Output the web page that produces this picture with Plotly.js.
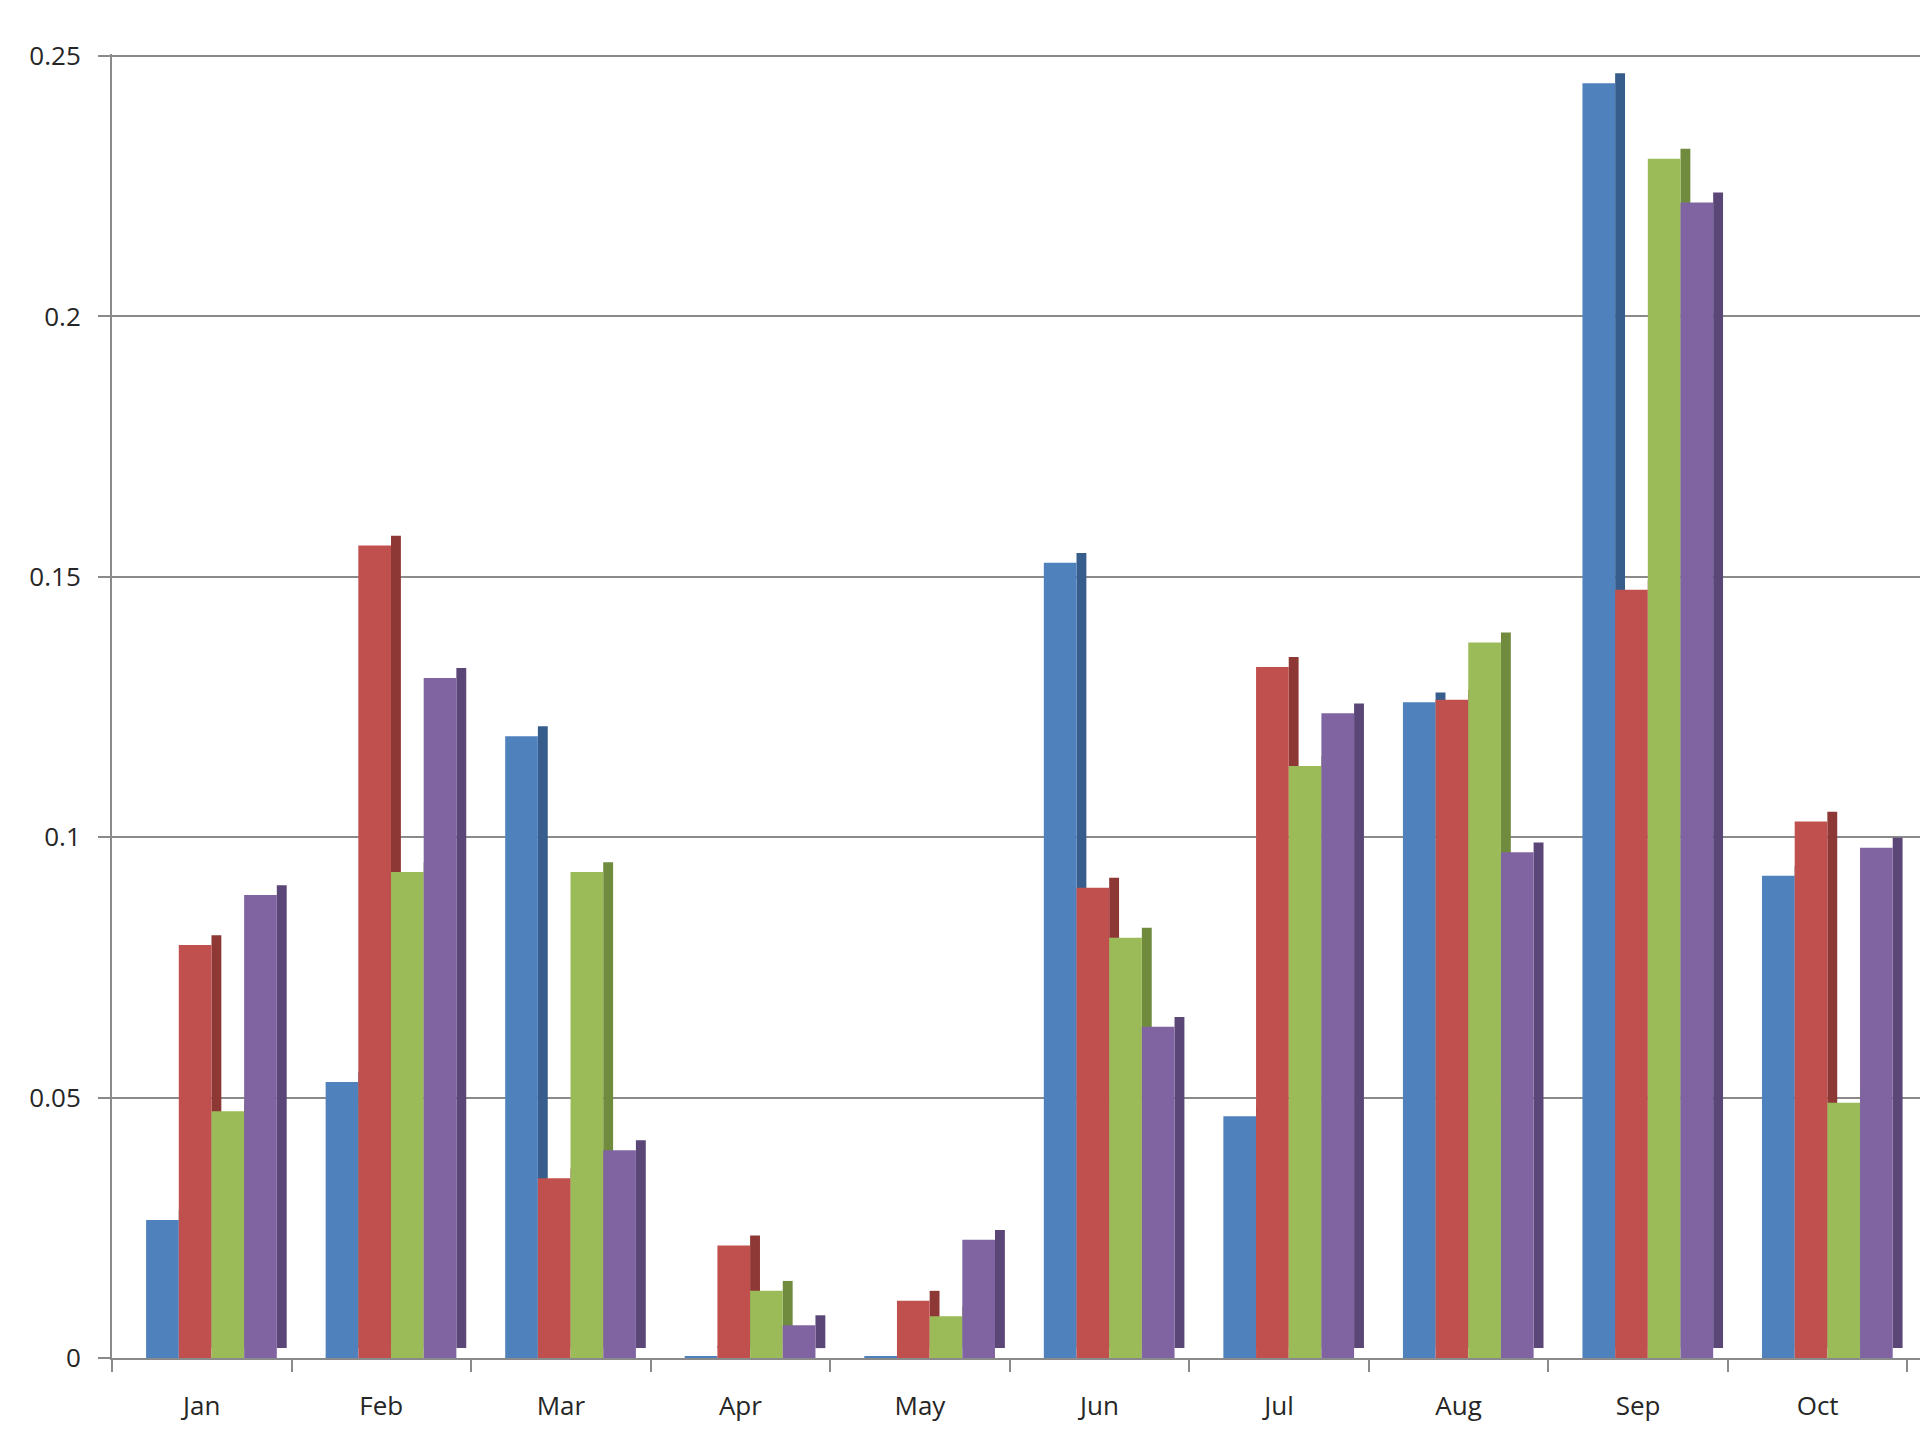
<!DOCTYPE html>
<html>
<head>
<meta charset="utf-8">
<script src="https://cdn.plot.ly/plotly-3.0.1.min.js"></script>
<style>
  html, body { margin: 0; padding: 0; background: #ffffff; }
  #chart { width: 1920px; height: 1440px; }
</style>
</head>
<body>
<div id="chart"></div>
<script>
// ---- Data ----
const months = ["Jan", "Feb", "Mar", "Apr", "May", "Jun", "Jul", "Aug", "Sep", "Oct"];
const series1 = [0.0265, 0.0530, 0.1194, 0.0004, 0.0004, 0.1527, 0.0464, 0.1259, 0.2448, 0.0926];
const series2 = [0.0793, 0.1560, 0.0345, 0.0216, 0.0110, 0.0903, 0.1327, 0.1264, 0.1475, 0.1030];
const series3 = [0.0474, 0.0933, 0.0933, 0.0129, 0.0080, 0.0807, 0.1137, 0.1374, 0.2303, 0.0490];
const series4 = [0.0889, 0.1306, 0.0399, 0.0063, 0.0227, 0.0636, 0.1238, 0.0971, 0.2219, 0.0980];
const yTicks = [0, 0.05, 0.1, 0.15, 0.2, 0.25];
const yTickText = ["0", "0.05", "0.1", "0.15", "0.2", "0.25"];

// ---- Styles ----
const allSeries = [series1, series2, series3, series4];
const names = ["Series 1", "Series 2", "Series 3", "Series 4"];
const frontColors = ["#4F81BD", "#C0504D", "#9BBB59", "#8064A2"];
const sideColors  = ["#375D8C", "#8E3835", "#708A3E", "#5A4677"];
const barWidth = 0.182;          // width of a front face, in category units
const firstOffset = -0.31;       // left edge of first bar relative to category centre
const sideWidth = 0.055;         // depth face width, in category units
const lift = 0.0019;             // vertical depth lift of the side faces

const traces = [];
// side (depth) faces first, so the front faces overlap them
allSeries.forEach((vals, i) => {
  traces.push({
    type: "bar",
    x: months,
    y: vals,
    base: vals.map(() => lift),
    offset: firstOffset + (i + 1) * barWidth,
    width: sideWidth,
    marker: { color: sideColors[i], line: { width: 0 } },
    showlegend: false,
    hoverinfo: "skip"
  });
});
allSeries.forEach((vals, i) => {
  traces.push({
    type: "bar",
    name: names[i],
    x: months,
    y: vals,
    offset: firstOffset + i * barWidth,
    width: barWidth,
    marker: { color: frontColors[i], line: { width: 0 } },
    showlegend: false
  });
});

const layout = {
  width: 1920,
  height: 1440,
  margin: { l: 112, r: 0, t: 54, b: 82 },
  paper_bgcolor: "#ffffff",
  plot_bgcolor: "#ffffff",
  barmode: "overlay",
  font: { family: "Open Sans, Noto Sans, sans-serif", size: 26, color: "#262626" },
  xaxis: {
    type: "category",
    range: [-0.5, 9.57],
    tickson: "boundaries",
    ticks: "outside",
    ticklen: 12,
    tickwidth: 2,
    tickcolor: "#8a8a8a",
    showline: true,
    linecolor: "#8a8a8a",
    linewidth: 2,
    showgrid: false,
    ticklabelstandoff: 24,
    tickfont: { size: 26, color: "#262626" }
  },
  yaxis: {
    range: [0, 0.2504],
    tickmode: "array",
    tickvals: yTicks,
    ticktext: yTickText,
    ticks: "outside",
    ticklen: 12,
    tickwidth: 2,
    tickcolor: "#8a8a8a",
    showline: true,
    linecolor: "#8a8a8a",
    linewidth: 2,
    showgrid: true,
    gridcolor: "#8a8a8a",
    gridwidth: 2,
    zeroline: false,
    ticklabelstandoff: 12,
    tickfont: { size: 26, color: "#262626" }
  }
};

Plotly.newPlot("chart", traces, layout, { displayModeBar: false, staticPlot: true });
</script>
</body>
</html>
